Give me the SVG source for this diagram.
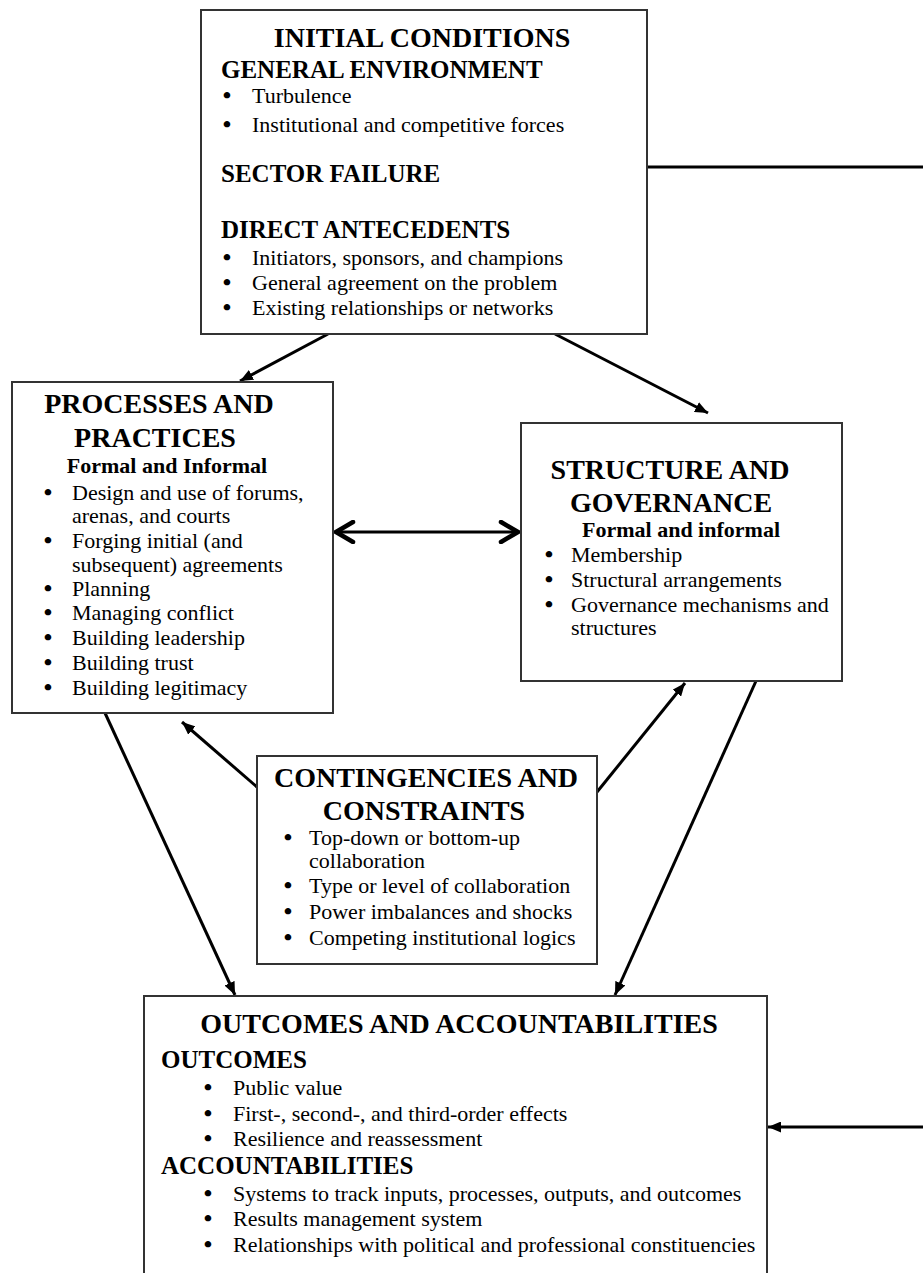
<svg xmlns="http://www.w3.org/2000/svg" width="923" height="1273" viewBox="0 0 923 1273">
<style>
.box{fill:#fff;stroke:#333;stroke-width:2}
text{font-family:"Liberation Serif","Times New Roman",serif;fill:#000}
.t{font-size:28px;font-weight:bold;text-anchor:middle}
.h{font-size:25px;font-weight:bold}
.s{font-size:22px;font-weight:bold;text-anchor:middle}
.b{font-size:22px}
.d{font-size:24px;font-weight:bold;text-anchor:middle}
.c{fill:none;stroke:#000;stroke-width:3}
</style>
<defs>
<marker id="ah" viewBox="0 0 13 11" refX="13" refY="5.5" markerWidth="13" markerHeight="11" markerUnits="userSpaceOnUse" orient="auto"><path d="M0,0 L13,5.5 L0,11 z" fill="#000"/></marker>
<marker id="chev" viewBox="0 0 22 24" refX="20" refY="12" markerWidth="22" markerHeight="24" markerUnits="userSpaceOnUse" orient="auto-start-reverse"><path d="M3,2 L20,12 L3,22" fill="none" stroke="#000" stroke-width="4.5" stroke-linecap="round" stroke-linejoin="miter"/></marker>
</defs>
<rect width="923" height="1273" fill="#fff"/>
<g id="connectors">
<line class="c" x1="647" y1="167" x2="923" y2="167"/>
<line class="c" x1="328" y1="334" x2="240" y2="381" marker-end="url(#ah)"/>
<line class="c" x1="555" y1="334" x2="708" y2="413" marker-end="url(#ah)"/>
<line class="c" x1="336" y1="532" x2="518" y2="532" marker-start="url(#chev)" marker-end="url(#chev)"/>
<line class="c" x1="105" y1="713" x2="235" y2="995" marker-end="url(#ah)"/>
<line class="c" x1="257" y1="787" x2="182" y2="722" marker-end="url(#ah)"/>
<line class="c" x1="597" y1="792" x2="685" y2="683" marker-end="url(#ah)"/>
<line class="c" x1="756" y1="681" x2="615" y2="995" marker-end="url(#ah)"/>
<line class="c" x1="923" y1="1127" x2="768" y2="1127" marker-end="url(#ah)"/>
</g>
<g id="initial-conditions">
<rect class="box" x="201" y="10" width="446" height="324"/>
<text class="t" x="422" y="47">INITIAL CONDITIONS</text>
<text class="h" x="221" y="78">GENERAL ENVIRONMENT</text>
<text class="d" x="227" y="103">•</text><text class="b" x="252" y="103">Turbulence</text>
<text class="d" x="227" y="132">•</text><text class="b" x="252" y="132">Institutional and competitive forces</text>
<text class="h" x="221" y="182">SECTOR FAILURE</text>
<text class="h" x="221" y="238">DIRECT ANTECEDENTS</text>
<text class="d" x="227" y="265">•</text><text class="b" x="252" y="265">Initiators, sponsors, and champions</text>
<text class="d" x="227" y="290">•</text><text class="b" x="252" y="290">General agreement on the problem</text>
<text class="d" x="227" y="315">•</text><text class="b" x="252" y="315">Existing relationships or networks</text>
</g>
<g id="processes-practices">
<rect class="box" x="12" y="382" width="321" height="331"/>
<text class="t" x="159" y="413">PROCESSES AND</text>
<text class="t" x="155" y="447">PRACTICES</text>
<text class="s" x="167" y="473">Formal and Informal</text>
<text class="d" x="48" y="500">•</text><text class="b" x="72" y="500">Design and use of forums,</text>
<text class="b" x="72" y="523">arenas, and courts</text>
<text class="d" x="48" y="548">•</text><text class="b" x="72" y="548">Forging initial (and</text>
<text class="b" x="72" y="572">subsequent) agreements</text>
<text class="d" x="48" y="596">•</text><text class="b" x="72" y="596">Planning</text>
<text class="d" x="48" y="620">•</text><text class="b" x="72" y="620">Managing conflict</text>
<text class="d" x="48" y="645">•</text><text class="b" x="72" y="645">Building leadership</text>
<text class="d" x="48" y="670">•</text><text class="b" x="72" y="670">Building trust</text>
<text class="d" x="48" y="695">•</text><text class="b" x="72" y="695">Building legitimacy</text>
</g>
<g id="structure-governance">
<rect class="box" x="521" y="423" width="321" height="258"/>
<text class="t" x="670" y="479">STRUCTURE AND</text>
<text class="t" x="671" y="512">GOVERNANCE</text>
<text class="s" x="681" y="537">Formal and informal</text>
<text class="d" x="549" y="562">•</text><text class="b" x="571" y="562">Membership</text>
<text class="d" x="549" y="587">•</text><text class="b" x="571" y="587">Structural arrangements</text>
<text class="d" x="549" y="612">•</text><text class="b" x="571" y="612">Governance mechanisms and</text>
<text class="b" x="571" y="635">structures</text>
</g>
<g id="contingencies-constraints">
<rect class="box" x="257" y="756" width="340" height="208"/>
<text class="t" x="426" y="787">CONTINGENCIES AND</text>
<text class="t" x="424" y="820">CONSTRAINTS</text>
<text class="d" x="288" y="845">•</text><text class="b" x="309" y="845">Top-down or bottom-up</text>
<text class="b" x="309" y="868">collaboration</text>
<text class="d" x="288" y="893">•</text><text class="b" x="309" y="893">Type or level of collaboration</text>
<text class="d" x="288" y="919">•</text><text class="b" x="309" y="919">Power imbalances and shocks</text>
<text class="d" x="288" y="945">•</text><text class="b" x="309" y="945">Competing institutional logics</text>
</g>
<g id="outcomes-accountabilities">
<rect class="box" x="144" y="996" width="623" height="300"/>
<text class="t" x="459" y="1033">OUTCOMES AND ACCOUNTABILITIES</text>
<text class="h" x="161" y="1068">OUTCOMES</text>
<text class="d" x="208" y="1095">•</text><text class="b" x="233" y="1095">Public value</text>
<text class="d" x="208" y="1121">•</text><text class="b" x="233" y="1121">First-, second-, and third-order effects</text>
<text class="d" x="208" y="1146">•</text><text class="b" x="233" y="1146">Resilience and reassessment</text>
<text class="h" x="161" y="1174">ACCOUNTABILITIES</text>
<text class="d" x="208" y="1201">•</text><text class="b" x="233" y="1201">Systems to track inputs, processes, outputs, and outcomes</text>
<text class="d" x="208" y="1226">•</text><text class="b" x="233" y="1226">Results management system</text>
<text class="d" x="208" y="1252">•</text><text class="b" x="233" y="1252">Relationships with political and professional constituencies</text>
</g>
</svg>
